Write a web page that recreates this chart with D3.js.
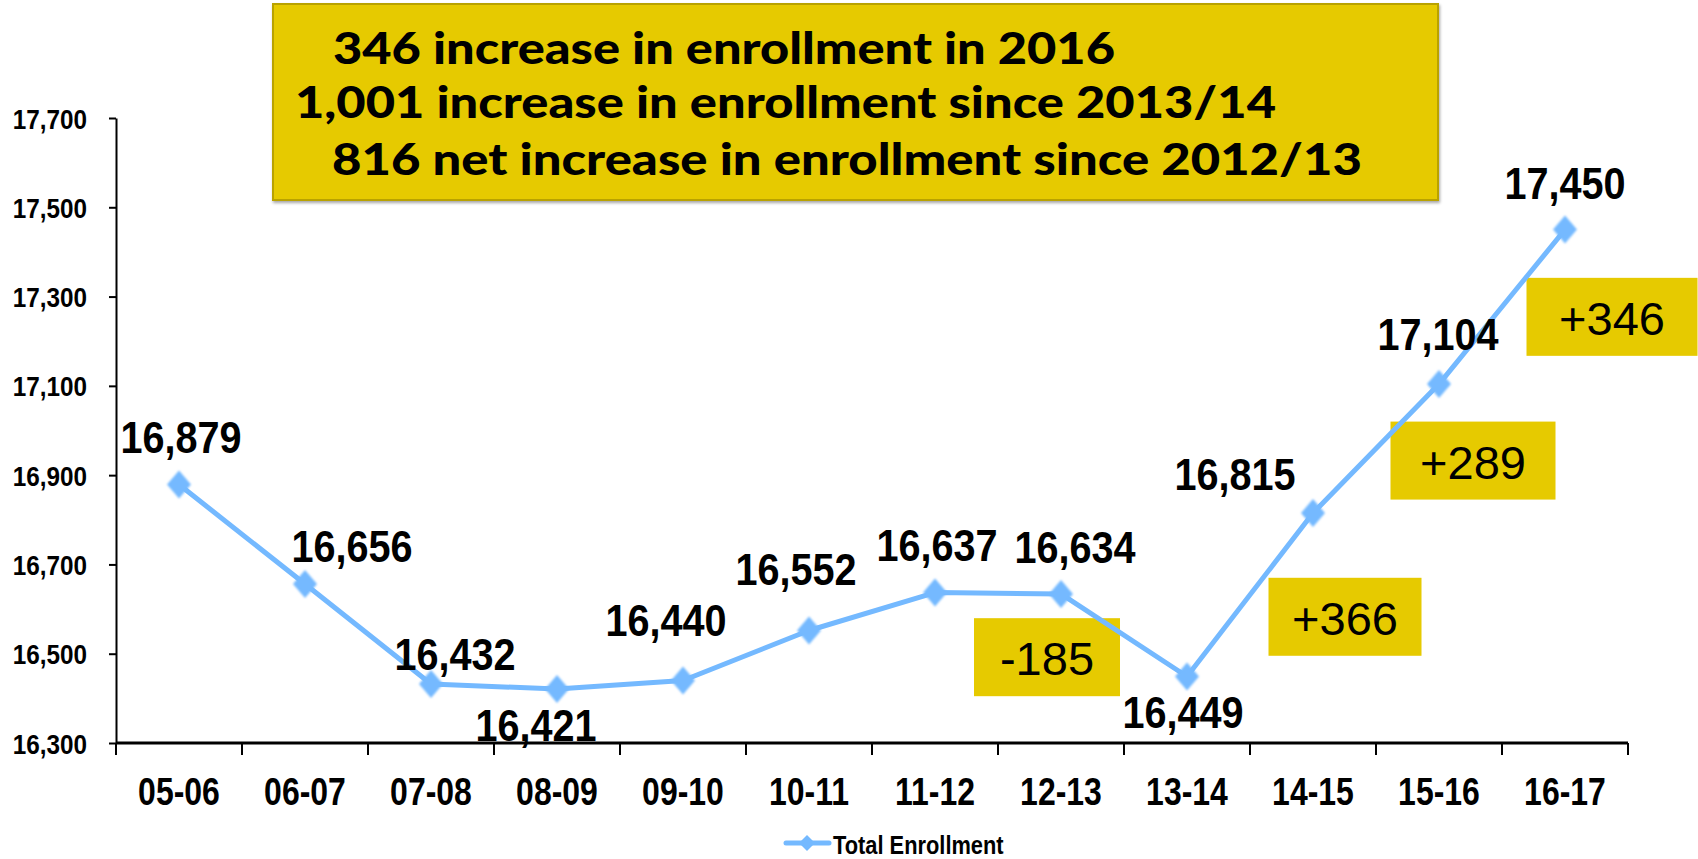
<!DOCTYPE html>
<html>
<head>
<meta charset="utf-8">
<script src="https://cdn.jsdelivr.net/npm/d3@7"></script>
<style>
  body { margin: 0; background: #fff; }
  svg { display: block; }
</style>
</head>
<body>
<div id="chart"></div>
<script>
// data
var seasons = ["05-06", "06-07", "07-08", "08-09", "09-10", "10-11", "11-12", "12-13", "13-14", "14-15", "15-16", "16-17"];
var enrollment = [16879, 16656, 16432, 16421, 16440, 16552, 16637, 16634, 16449, 16815, 17104, 17450];
var yTicks = [16300, 16500, 16700, 16900, 17100, 17300, 17500, 17700];
var headline = [
  "346 increase in enrollment in 2016",
  "1,001 increase in enrollment since 2013/14",
  "816 net increase in enrollment since 2012/13"
];
var changeStart = [7, 8, 9, 10]; // year-over-year change boxes start at these seasons
var seriesName = "Total Enrollment";

var svgWidth = 1698, svgHeight = 859;
var plotLeft = 116, plotRight = 1628, plotTop = 118, plotBottom = 743;
var yellow = "#e6ca00", blue = "#74b9ff";

var svg = d3.select("#chart").append("svg")
  .attr("width", svgWidth)
  .attr("height", svgHeight);

var defs = svg.append("defs");
defs.append("filter").attr("id", "soft")
  .append("feGaussianBlur").attr("stdDeviation", 0.9);
var sh = defs.append("filter").attr("id", "shadow")
  .attr("x", "-5%").attr("y", "-10%").attr("width", "110%").attr("height", "130%");
sh.append("feDropShadow").attr("dx", 1).attr("dy", 2).attr("stdDeviation", 1.5)
  .attr("flood-color", "#000").attr("flood-opacity", 0.35);

var x = d3.scaleBand().domain(seasons).range([plotLeft, plotRight]);
var y = d3.scaleLinear().domain([16300, 17700]).range([plotBottom, plotTop]);
function cx(i) { return x(seasons[i]) + x.bandwidth() / 2; }

// squeezed bold text, the original uses a narrow face
function narrow(g, px, py, str, size, sx, anchor, weight) {
  return g.append("text")
    .attr("transform", "translate(" + px + "," + py + ") scale(" + sx + ",1)")
    .attr("text-anchor", anchor || "middle")
    .attr("font-family", "'Liberation Sans', Arial, sans-serif")
    .attr("font-weight", weight || "bold")
    .attr("font-size", size)
    .attr("fill", "#000")
    .text(str);
}

// headline box
var head = svg.append("g");
head.append("rect")
  .attr("x", 273).attr("y", 4).attr("width", 1165).attr("height", 196)
  .attr("fill", yellow).attr("stroke", "#b9a200").attr("stroke-width", 2)
  .attr("filter", "url(#shadow)");
var headX = [333, 295, 332], headW = [782, 981, 1030], headY = [64, 118, 175];
headline.forEach(function(t, i) {
  head.append("text")
    .attr("x", headX[i]).attr("y", headY[i])
    .attr("textLength", headW[i]).attr("lengthAdjust", "spacingAndGlyphs")
    .attr("font-family", "Lato, 'Open Sans', sans-serif")
    .attr("font-weight", 900)
    .attr("font-size", 44)
    .attr("fill", "#000")
    .text(t);
});

// y axis
var yAxis = svg.append("g")
  .attr("transform", "translate(" + plotLeft + ",0)")
  .call(d3.axisLeft(y).tickValues(yTicks).tickSize(7).tickSizeOuter(0).tickFormat(d3.format(",")));
yAxis.select(".domain").attr("stroke", "#000").attr("stroke-width", 2);
yAxis.selectAll(".tick line").attr("stroke", "#000").attr("stroke-width", 2);
yAxis.selectAll(".tick text").remove();
yAxis.selectAll(".tick").each(function(d) {
  narrow(d3.select(this), -29, 10, d3.format(",")(d), 27, 0.9, "end");
});

// x axis, ticks between categories
var xAxis = svg.append("g").attr("transform", "translate(0," + plotBottom + ")");
xAxis.append("line").attr("x1", plotLeft).attr("x2", plotRight)
  .attr("stroke", "#000").attr("stroke-width", 3);
xAxis.selectAll("line.tk").data(seasons.concat(["end"])).enter().append("line")
  .attr("class", "tk")
  .attr("x1", function(d) { return d === "end" ? plotRight : x(d); })
  .attr("x2", function(d) { return d === "end" ? plotRight : x(d); })
  .attr("y1", 0).attr("y2", 12)
  .attr("stroke", "#000").attr("stroke-width", 2);
seasons.forEach(function(s, i) {
  narrow(xAxis, cx(i), 62, s, 39, 0.82);
});

// change boxes between consecutive years
var boxDx = [-77, 95, 97, 110], boxDy = [22, 22, 12, 10], boxW = [146, 153, 165, 171];
changeStart.forEach(function(i, k) {
  var diff = enrollment[i + 1] - enrollment[i];
  var mx = (cx(i) + cx(i + 1)) / 2 + boxDx[k];
  var my = (y(enrollment[i]) + y(enrollment[i + 1])) / 2 + boxDy[k];
  svg.append("rect")
    .attr("x", mx - boxW[k] / 2).attr("y", my - 39)
    .attr("width", boxW[k]).attr("height", 78)
    .attr("fill", yellow);
  svg.append("text")
    .attr("x", mx).attr("y", my + 18)
    .attr("text-anchor", "middle")
    .attr("font-family", "'Liberation Sans', Arial, sans-serif")
    .attr("font-size", 47)
    .attr("fill", "#000")
    .text((diff > 0 ? "+" : "") + diff);
});

// line + markers
var line = d3.line()
  .x(function(d, i) { return cx(i); })
  .y(function(d) { return y(d); });
svg.append("path").datum(enrollment)
  .attr("d", line)
  .attr("fill", "none")
  .attr("stroke", blue)
  .attr("stroke-width", 5)
  .attr("stroke-linejoin", "round");

function diamond(g, px, py) {
  g.append("path")
    .attr("d", "M" + px + "," + (py - 14) + "L" + (px + 12) + "," + py + "L" + px + "," + (py + 14) + "L" + (px - 12) + "," + py + "Z")
    .attr("fill", blue)
    .attr("filter", "url(#soft)");
}
enrollment.forEach(function(v, i) { diamond(svg, cx(i), y(v)); });

// value labels, offsets from each point
var labDx = [2, 47, 24, -21, -17, -13, 2, 14, -4, -78, -1, 0];
var labDy = [-32, -22, -14, 52, -45, -46, -32, -31, 52, -23, -34, -31];
enrollment.forEach(function(v, i) {
  narrow(svg, cx(i) + labDx[i], y(v) + labDy[i], d3.format(",")(v), 45, 0.88);
});

// legend
var lg = svg.append("g");
lg.append("line").attr("x1", 786).attr("x2", 829).attr("y1", 843).attr("y2", 843)
  .attr("stroke", blue).attr("stroke-width", 5).attr("stroke-linecap", "round");
lg.append("path")
  .attr("d", "M807,835L815,843L807,851L799,843Z")
  .attr("fill", blue);
narrow(lg, 833, 854, seriesName, 26, 0.84, "start");
</script>
</body>
</html>
